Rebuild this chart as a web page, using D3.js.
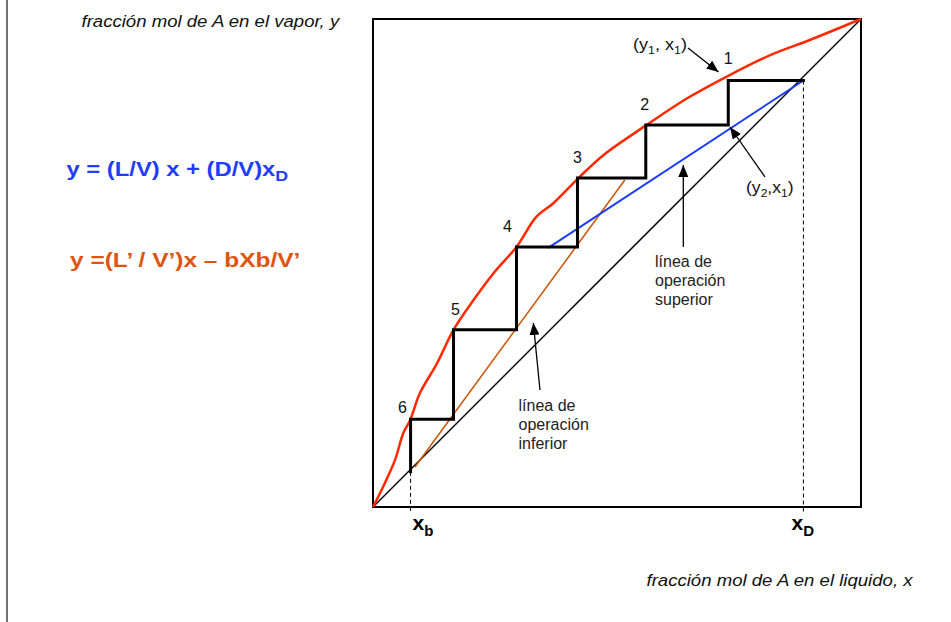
<!DOCTYPE html>
<html>
<head>
<meta charset="utf-8">
<script src="https://cdn.jsdelivr.net/npm/d3@7"></script>
<style>
  body { margin: 0; background: #fff; }
  svg { display: block; }
  text { font-family: "Liberation Sans", Arial, Helvetica, sans-serif; }
</style>
</head>
<body>
<script>
// Equilibrium curve: liquid fraction x vs vapour fraction y
const eqX = [0, 0.021, 0.045, 0.062, 0.076, 0.096, 0.131, 0.165, 0.206, 0.247, 0.294, 0.335, 0.369, 0.421, 0.472, 0.561, 0.643, 0.725, 0.814, 0.895, 1];
const eqY = [0, 0.042, 0.096, 0.151, 0.178, 0.233, 0.294, 0.363, 0.424, 0.479, 0.533, 0.595, 0.622, 0.674, 0.721, 0.783, 0.837, 0.882, 0.926, 0.957, 1];

// Distillate and bottoms compositions
const xD = 0.882;
const xB = 0.077;

// Stage-by-stage compositions of the staircase (starting at xD)
const stageX = [0.882, 0.728, 0.559, 0.419, 0.294, 0.165, 0.077];
const stageY = [0.874, 0.783, 0.674, 0.533, 0.363, 0.180, 0.072];
const stageLabels = ["1", "2", "3", "4", "5", "6"];

// Operating lines (end points)
const upperOpX = [0.359, 0.882];
const upperOpY = [0.531, 0.874];
const lowerOpX = [0.086, 0.516];
const lowerOpY = [0.082, 0.670];

const W = 951, H = 622;
const svg = d3.select("body").append("svg").attr("width", W).attr("height", H);

const x = d3.scaleLinear().domain([0, 1]).range([373, 861]);
const y = d3.scaleLinear().domain([0, 1]).range([507, 19]);

const defs = svg.append("defs");
defs.append("marker")
  .attr("id", "arrowhead")
  .attr("viewBox", "0 0 12 10")
  .attr("refX", 12).attr("refY", 5)
  .attr("markerWidth", 12).attr("markerHeight", 10)
  .attr("markerUnits", "userSpaceOnUse")
  .attr("orient", "auto")
  .append("path").attr("d", "M0,0 L12,5 L0,10 Z").attr("fill", "#000");

// page rule on the left
svg.append("line")
  .attr("x1", 7).attr("x2", 7).attr("y1", 0).attr("y2", H)
  .attr("stroke", "#444").attr("stroke-width", 1.5);

// plot frame
svg.append("rect")
  .attr("x", x(0)).attr("y", y(1))
  .attr("width", x(1) - x(0)).attr("height", y(0) - y(1))
  .attr("fill", "none").attr("stroke", "#000").attr("stroke-width", 2);

const line = d3.line().x(d => x(d[0])).y(d => y(d[1]));

// 45° diagonal
svg.append("path")
  .attr("d", line([[0, 0], [1, 1]]))
  .attr("fill", "none").attr("stroke", "#000").attr("stroke-width", 1.5);

// dashed guides at xD and xB
[[xD, stageY[0]], [xB, stageY[stageY.length - 1]]].forEach(([gx, gy]) => {
  svg.append("line")
    .attr("x1", x(gx)).attr("x2", x(gx))
    .attr("y1", y(gy)).attr("y2", y(-0.013))
    .attr("stroke", "#000").attr("stroke-width", 1)
    .attr("stroke-dasharray", "4,3");
});

// lower operating line
svg.append("path")
  .attr("d", line(d3.zip(lowerOpX, lowerOpY)))
  .attr("fill", "none").attr("stroke", "#cc5200").attr("stroke-width", 1.5);

// upper operating line
svg.append("path")
  .attr("d", line(d3.zip(upperOpX, upperOpY)))
  .attr("fill", "none").attr("stroke", "#1a3cff").attr("stroke-width", 2);

// equilibrium curve
svg.append("path")
  .attr("d", d3.line().x(d => x(d[0])).y(d => y(d[1])).curve(d3.curveCatmullRom.alpha(0.5))(d3.zip(eqX, eqY)))
  .attr("fill", "none").attr("stroke", "#ff2a00").attr("stroke-width", 2.5);

// staircase
const steps = [[stageX[0], stageY[0]]];
for (let i = 0; i < stageX.length - 1; i++) {
  steps.push([stageX[i + 1], stageY[i]]);
  steps.push([stageX[i + 1], stageY[i + 1]]);
}
svg.append("path")
  .attr("d", line(steps))
  .attr("fill", "none").attr("stroke", "#000").attr("stroke-width", 3)
  .attr("stroke-linejoin", "miter").attr("stroke-linecap", "square");

// stage numbers, placed above each stage's top-left corner
const labelShift = [[0, -16], [-1, -15], [0, -15], [-9, -15], [2, -15], [-8, -6]];
stageLabels.forEach((lab, i) => {
  svg.append("text")
    .attr("x", x(stageX[i + 1]) + labelShift[i][0])
    .attr("y", y(stageY[i]) + labelShift[i][1])
    .attr("text-anchor", "middle")
    .attr("font-size", 16).attr("fill", "#111")
    .text(lab);
});

// arrows
const arrows = [
  [[688, 48], [718.5, 72]],
  [[765, 177], [730, 127]],
  [[683.3, 247], [683.3, 165]],
  [[540, 390], [533.3, 323]]
];
arrows.forEach(([a, b]) => {
  svg.append("line")
    .attr("x1", a[0]).attr("y1", a[1]).attr("x2", b[0]).attr("y2", b[1])
    .attr("stroke", "#000").attr("stroke-width", 1.3)
    .attr("marker-end", "url(#arrowhead)");
});

// helper for a label with subscripts: parts = [[text, isSub], ...]
function richText(g, parts, size, subSize, subDy) {
  const t = g.append("text").attr("font-size", size);
  let down = false;
  parts.forEach(([s, sub]) => {
    const ts = t.append("tspan").text(s);
    if (sub && !down) { ts.attr("font-size", subSize).attr("dy", subDy); down = true; }
    else if (!sub && down) { ts.attr("dy", -subDy); down = false; }
  });
  return t;
}

// (y1, x1) and (y2,x1)
richText(svg.append("g").attr("transform", "translate(633,50) scale(1.13,1)"),
  [["(y", false], ["1", true], [", x", false], ["1", true], [")", false]], 16, 11, 4)
  .attr("fill", "#111");
richText(svg.append("g").attr("transform", "translate(746,193) scale(1.1,1)"),
  [["(y", false], ["2", true], [",x", false], ["1", true], [")", false]], 16, 11, 4)
  .attr("fill", "#111");

// operating-line captions
function block(x0, y0, lines) {
  lines.forEach((s, i) => {
    svg.append("text")
      .attr("x", x0).attr("y", y0 + i * 19)
      .attr("font-size", 16).attr("fill", "#222")
      .text(s);
  });
}
block(655, 266.5, ["línea de", "operación", "superior"]);
block(518.5, 411, ["línea de", "operación", "inferior"]);

// xb and xD labels
richText(svg.append("g").attr("transform", "translate(412.5,530)"),
  [["x", false], ["b", true]], 21, 15, 6).attr("font-weight", "bold");
richText(svg.append("g").attr("transform", "translate(791.5,530)"),
  [["x", false], ["D", true]], 21, 15, 6).attr("font-weight", "bold");

// axis titles
svg.append("g").attr("transform", "translate(81.5,26.5) scale(1.14,1)")
  .append("text").attr("font-size", 16.3).attr("font-style", "italic").attr("fill", "#111")
  .text("fracción mol de A en el vapor, y");
svg.append("g").attr("transform", "translate(646.5,586) scale(1.14,1)")
  .append("text").attr("font-size", 16.3).attr("font-style", "italic").attr("fill", "#111")
  .text("fracción mol de A en el liquido, x");

// operating-line equations
richText(svg.append("g").attr("transform", "translate(66.5,176) scale(1.19,1)"),
  [["y = (L/V) x + (D/V)x", false], ["D", true]], 20, 15, 5)
  .attr("font-weight", "bold").attr("fill", "#1f3dff");
svg.append("g").attr("transform", "translate(70,266.5) scale(1.165,1)")
  .append("text").attr("font-size", 21).attr("font-weight", "bold").attr("fill", "#dd5511")
  .text("y =(L’ / V’)x – bXb/V’");
</script>
</body>
</html>
